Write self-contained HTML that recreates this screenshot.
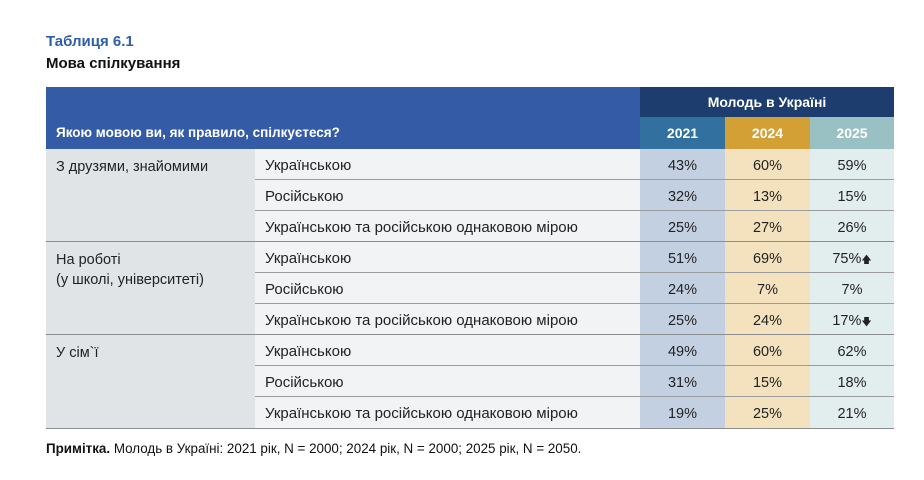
<!DOCTYPE html>
<html><head><meta charset="utf-8"><style>
body{margin:0;width:924px;height:480px;background:#fff;font-family:"Liberation Sans",sans-serif;position:relative;overflow:hidden;color:#222}
.a{position:absolute}
.t{font-size:14.5px;white-space:nowrap}
.c{text-align:center}
</style></head><body>
<div class="a" style="left:46px;top:33px;font-size:15px;font-weight:bold;color:#2f5ea8">Таблиця 6.1</div>
<div class="a" style="left:46px;top:55px;font-size:15px;font-weight:bold;color:#111">Мова спілкування</div>

<div class="a" style="left:46px;top:87px;width:594px;height:62px;background:#345ca6"></div>
<div class="a" style="left:56px;top:125px;font-size:13.5px;font-weight:bold;color:#fff">Якою мовою ви, як правило, спілкуєтеся?</div>
<div class="a" style="left:640px;top:87px;width:254px;height:30px;background:#1c3d6e"></div>
<div class="a c" style="left:640px;top:94px;width:254px;font-size:14px;font-weight:bold;color:#fff">Молодь в Україні</div>
<div class="a" style="left:640px;top:117px;width:85px;height:32px;background:#31709f"></div>
<div class="a" style="left:725px;top:117px;width:85px;height:32px;background:#d2a035"></div>
<div class="a" style="left:810px;top:117px;width:84px;height:32px;background:#99c1c4"></div>
<div class="a c" style="left:640px;top:125px;width:85px;font-size:14px;font-weight:bold;color:#fff">2021</div>
<div class="a c" style="left:725px;top:125px;width:85px;font-size:14px;font-weight:bold;color:#fff">2024</div>
<div class="a c" style="left:810px;top:125px;width:84px;font-size:14px;font-weight:bold;color:#fff">2025</div>

<div class="a" style="left:46px;top:149px;width:209px;height:280px;background:#e1e4e7"></div>
<div class="a" style="left:255px;top:149px;width:385px;height:280px;background:#f2f3f5"></div>
<div class="a" style="left:640px;top:149px;width:85px;height:280px;background:#c3d0e2"></div>
<div class="a" style="left:725px;top:149px;width:85px;height:280px;background:#f3e2bd"></div>
<div class="a" style="left:810px;top:149px;width:84px;height:280px;background:#e2eeee"></div>

<div id="rows"></div>
<script>
var g=["З друзями, знайомими","На роботі<br>(у школі, університеті)","У сім`ї"];
var l=["Українською","Російською","Українською та російською однаковою мірою"];
var v=[["43%","60%","59%"],["32%","13%","15%"],["25%","27%","26%"],["51%","69%","75%<span style='font-size:10px'>&#129093;</span>"],["24%","7%","7%"],["25%","24%","17%<span style='font-size:10px'>&#129095;</span>"],["49%","60%","62%"],["31%","15%","18%"],["19%","25%","21%"]];
var h="",xs=[640,725,810],ws=[85,85,84];
for(var i=0;i<9;i++){var y=149+i*31;
 if(i%3==0){h+='<div class="a t" style="left:56px;top:'+(y+8)+'px;line-height:20px">'+g[i/3]+'</div>';
  if(i>0)h+='<div class="a" style="left:46px;top:'+(y-1)+'px;width:848px;height:1px;background:#8a8d90"></div>';}
 else h+='<div class="a" style="left:255px;top:'+(y-1)+'px;width:639px;height:1px;background:#9a9c9f"></div>';
 h+='<div class="a t" style="left:265px;top:'+(y+8)+'px;font-size:15px">'+l[i%3]+'</div>';
 for(var j=0;j<3;j++)h+='<div class="a t c" style="left:'+xs[j]+'px;top:'+(y+9)+'px;width:'+ws[j]+'px">'+v[i][j]+'</div>';
}
h+='<div class="a" style="left:46px;top:428px;width:848px;height:1px;background:#8a8d90"></div>';
document.getElementById("rows").innerHTML=h;
</script>
<div class="a" style="left:46px;top:441px;font-size:13.4px;color:#111"><b>Примітка.</b> Молодь в Україні: 2021 рік, N = 2000; 2024 рік, N = 2000; 2025 рік, N = 2050.</div>
</body></html>
